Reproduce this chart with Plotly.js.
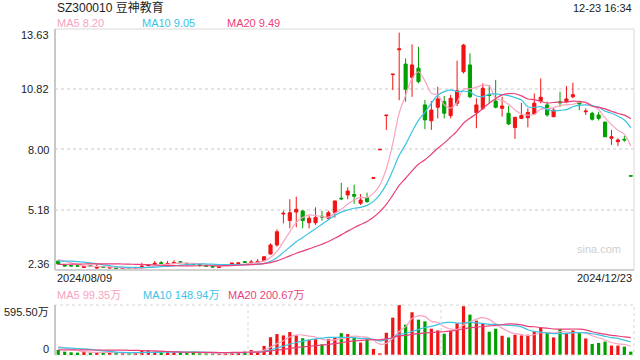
<!DOCTYPE html>
<html><head><meta charset="utf-8">
<script src="https://cdn.plot.ly/plotly-3.0.1.min.js"></script>
<style>html,body{margin:0;padding:0;background:#fff}#chart{width:640px;height:360px}</style>
</head><body><div id="chart"></div>
<script>
// ---- data ----
const stockTitle = 'SZ300010 豆神教育';
const timeLabel = '12-23 16:34';
const dateLabels = ['2024/08/09', '2024/12/23'];
const priceMALabels = ['MA5 8.20', 'MA10 9.05', 'MA20 9.49'];
const volMALabels = ['MA5 99.35万', 'MA10 148.94万', 'MA20 200.67万'];
const priceTickValues = [13.63, 10.82, 8.00, 5.18, 2.36];
const priceTickLabels = ['13.63', '10.82', '8.00', '5.18', '2.36'];
const volTickValues = [595.5, 0];
const volTickLabels = ['595.50万', '0'];

const opens = [2.78,2.59,2.57,2.56,2.48,2.56,2.45,2.52,2.45,2.47,2.40,2.42,2.44,2.53,2.56,2.63,2.70,2.62,2.66,2.74,
2.67,2.66,2.62,2.57,2.53,2.48,2.59,2.64,2.66,2.75,2.69,2.72,2.80,3.11,3.53,4.98,4.67,5.07,5.12,4.57,
4.57,4.87,4.78,5.04,5.72,5.87,5.89,5.48,5.74,6.65,7.98,9.58,11.50,12.66,11.99,11.37,11.80,10.08,9.34,9.97,
10.23,9.58,10.16,11.63,11.95,9.72,9.92,10.56,10.26,9.92,9.69,9.02,9.45,9.48,9.66,10.28,10.08,9.53,10.23,10.23,
10.46,10.23,9.76,9.69,9.61,9.28,8.52,8.36,8.47,6.77];
const highs = [2.80,2.62,2.59,2.58,2.53,2.58,2.63,2.54,2.49,2.49,2.44,2.43,2.50,2.70,2.62,2.78,2.78,2.78,2.82,2.78,
2.70,2.68,2.63,2.59,2.55,2.53,2.63,2.70,2.72,2.78,2.84,2.87,2.99,3.61,4.26,5.13,5.67,5.79,5.15,4.90,
5.29,5.12,5.13,5.59,6.44,6.23,6.35,5.91,5.98,6.67,8.00,9.60,11.52,13.46,12.26,12.91,12.80,10.31,10.26,10.93,
10.50,10.55,12.15,12.93,12.49,10.39,11.09,11.01,11.25,10.46,10.03,9.50,10.18,9.92,10.62,11.32,10.23,9.92,10.70,10.96,
11.12,10.28,9.92,9.76,9.76,9.28,8.91,8.52,8.63,6.77];
const lows = [2.62,2.53,2.53,2.52,2.46,2.52,2.41,2.48,2.43,2.43,2.38,2.36,2.42,2.40,2.54,2.61,2.64,2.60,2.64,2.70,
2.62,2.61,2.51,2.52,2.48,2.46,2.55,2.62,2.63,2.70,2.67,2.70,2.78,3.08,3.45,4.54,4.31,4.36,4.31,4.31,
4.47,4.67,4.70,4.81,5.63,5.67,5.45,5.40,5.50,6.65,7.98,8.91,10.78,10.30,10.23,10.46,11.09,8.94,8.91,9.45,
9.45,9.45,10.03,11.55,10.40,8.99,9.84,10.16,9.92,9.53,9.14,8.49,9.41,9.03,9.61,10.16,9.53,9.50,9.99,10.16,
10.39,9.84,9.61,9.35,9.35,8.57,8.21,8.16,8.36,6.75];
const closes = [2.64,2.55,2.55,2.54,2.51,2.54,2.48,2.49,2.48,2.44,2.43,2.38,2.48,2.53,2.60,2.67,2.67,2.66,2.71,2.72,
2.64,2.62,2.58,2.54,2.50,2.52,2.60,2.68,2.69,2.72,2.73,2.76,2.98,3.53,4.15,5.01,5.04,5.20,4.67,4.78,
4.82,4.84,5.04,5.59,5.69,6.05,5.81,5.63,5.56,6.67,8.00,9.60,11.52,12.70,10.81,11.95,11.17,9.38,9.84,10.36,
9.69,10.39,10.74,12.88,10.46,10.08,10.86,10.52,9.97,10.03,9.19,9.50,9.58,9.73,10.16,10.44,9.61,9.84,10.18,10.36,
10.56,10.12,9.79,9.41,9.45,8.59,8.59,8.44,8.44,6.75];
const volumes = [60,40,32,28,40,28,32,28,28,28,20,20,28,48,48,40,40,32,40,32,
28,28,20,20,20,20,28,36,36,40,60,48,108,212,249,233,273,233,200,180,
188,128,192,212,260,249,217,148,188,72,20,265,445,595.5,361,509,421,401,313,293,
253,289,377,581,481,409,373,277,313,229,209,241,233,241,281,329,261,209,309,261,
293,261,197,132,144,160,112,112,100,40]; // 万
// closes / volumes of the 19 sessions before the window (needed for the MA lines' start)
const priorCloses = [2.42,2.44,2.45,2.43,2.47,2.46,2.48,2.47,2.49,2.49,2.55,2.62,2.70,2.78,2.90,2.95,2.92,2.88,2.85];
const priorVolumes = [30,35,40,32,38,35,30,40,35,35,50,60,70,80,90,120,110,100,110];

// ---- styling ----
const RED = '#f01414', GREEN = '#00a000';
const C5 = '#f8a3bf', C10 = '#3cc3e4', C20 = '#ea3f7a';
const FONT = 'Liberation Sans, Arial, "Noto Sans CJK SC", sans-serif';
const L = 55, R = 634, T = 29, B = 355;
const px = x => (x - L) / (R - L);
const py = y => (B - y) / (B - T);
const priceBottom = py(270), volTop = py(305);

function movingAvg(series, prior, n) {
  const all = prior.concat(series);
  return series.map((_, i) => {
    const end = prior.length + i;
    let s = 0;
    for (let k = end - n + 1; k <= end; k++) s += all[k];
    return s / n;
  });
}
const idx = closes.map((_, i) => i);
const volColors = closes.map((c, i) => c >= opens[i] ? RED : GREEN);

const maLine = (y, color, axis) => ({
  type: 'scatter', mode: 'lines', x: idx, y: y, yaxis: axis,
  line: {color: color, width: 1.2, shape: 'spline', smoothing: 1},
  hoverinfo: 'skip', showlegend: false
});

const traces = [
  {type: 'candlestick', x: idx, open: opens, high: highs, low: lows, close: closes,
   increasing: {line: {color: RED, width: 1}, fillcolor: RED},
   decreasing: {line: {color: GREEN, width: 1}, fillcolor: GREEN},
   whiskerwidth: 0, hoverinfo: 'none', showlegend: false, yaxis: 'y'},
  maLine(movingAvg(closes, priorCloses, 5), C5, 'y'),
  maLine(movingAvg(closes, priorCloses, 10), C10, 'y'),
  maLine(movingAvg(closes, priorCloses, 20), C20, 'y'),
  {type: 'bar', x: idx, y: volumes, yaxis: 'y2', width: 0.5,
   marker: {color: volColors, line: {width: 0}}, hoverinfo: 'skip', showlegend: false},
  maLine(movingAvg(volumes, priorVolumes, 5), C5, 'y2'),
  maLine(movingAvg(volumes, priorVolumes, 10), C10, 'y2'),
  maLine(movingAvg(volumes, priorVolumes, 20), C20, 'y2')
];

const ann = (text, x, y, xanchor, color, size) => ({
  text: text, xref: 'paper', yref: 'paper', x: px(x), y: py(y),
  xanchor: xanchor, yanchor: 'middle', showarrow: false,
  font: {family: FONT, size: size || 11, color: color || '#333'}
});

const priceLabelY = [35, 89, 149.5, 210, 264];
const annotations = [
  ann(stockTitle, 55, 8, 'left', '#222', 12),
  ann(timeLabel, 634, 8, 'right', '#222', 11),
  ann(priceMALabels[0], 55, 23, 'left', C5),
  ann(priceMALabels[1], 140, 23, 'left', C10),
  ann(priceMALabels[2], 225, 23, 'left', C20),
  ann(volMALabels[0], 55, 295, 'left', C5),
  ann(volMALabels[1], 141, 295, 'left', C10),
  ann(volMALabels[2], 226, 295, 'left', C20),
  ann(dateLabels[0], 55, 278, 'left', '#222'),
  ann(dateLabels[1], 634, 278, 'right', '#222'),
  ann('sina.com', 623, 249, 'right', '#cfcfcf', 11),
  ann(volTickLabels[0], 51, 312, 'right', '#222'),
  ann(volTickLabels[1], 51, 349, 'right', '#222')
];
priceTickLabels.forEach((t, i) => annotations.push(ann(t, 51, priceLabelY[i], 'right', '#222')));

const shapes = [
  {type: 'rect', xref: 'paper', yref: 'paper', x0: 0, x1: 1, y0: priceBottom, y1: 1,
   line: {color: '#d9d9d9', width: 1}},
  {type: 'line', xref: 'paper', yref: 'paper', x0: 0, x1: 0, y0: priceBottom, y1: 1,
   line: {color: '#c8c8c8', width: 2}},
  {type: 'line', xref: 'paper', yref: 'paper', x0: 0, x1: 1, y0: priceBottom, y1: priceBottom,
   line: {color: '#d0d0d0', width: 2}},
  {type: 'rect', xref: 'paper', yref: 'paper', x0: 0, x1: 1, y0: 0, y1: volTop,
   line: {color: '#d6d6d6', width: 1, dash: 'dot'}},
  {type: 'line', xref: 'x', yref: 'paper', x0: 29.5, x1: 29.5, y0: 0, y1: volTop,
   line: {color: '#d6d6d6', width: 1, dash: 'dot'}},
  {type: 'line', xref: 'x', yref: 'paper', x0: 59.5, x1: 59.5, y0: 0, y1: volTop,
   line: {color: '#d6d6d6', width: 1, dash: 'dot'}},
  {type: 'line', xref: 'paper', yref: 'paper', x0: 0, x1: 0, y0: 0, y1: volTop,
   line: {color: '#c8c8c8', width: 2}}
];

const layout = {
  width: 640, height: 360,
  margin: {l: L, r: 640 - R, t: T, b: 360 - B, pad: 0},
  paper_bgcolor: '#fff', plot_bgcolor: '#fff',
  showlegend: false, hovermode: false, dragmode: false,
  xaxis: {range: [-0.5, 89.5], showgrid: false, zeroline: false, showline: false,
          showticklabels: false, ticks: '', rangeslider: {visible: false}, anchor: 'y2', fixedrange: true},
  yaxis: {domain: [priceBottom, 1], range: [priceTickValues[4], priceTickValues[0]],
          tickvals: priceTickValues.slice(1, 4), showticklabels: false, ticks: '',
          showgrid: true, gridcolor: '#e4e4e4', gridwidth: 2, griddash: 'dot',
          zeroline: false, showline: false, fixedrange: true},
  yaxis2: {domain: [0, volTop], range: [volTickValues[1], volTickValues[0]],
           showgrid: false, showticklabels: false, ticks: '', zeroline: false, showline: false, fixedrange: true},
  annotations: annotations,
  shapes: shapes,
  font: {family: FONT}
};

Plotly.newPlot('chart', traces, layout, {staticPlot: true, displayModeBar: false});
</script>
</body></html>
